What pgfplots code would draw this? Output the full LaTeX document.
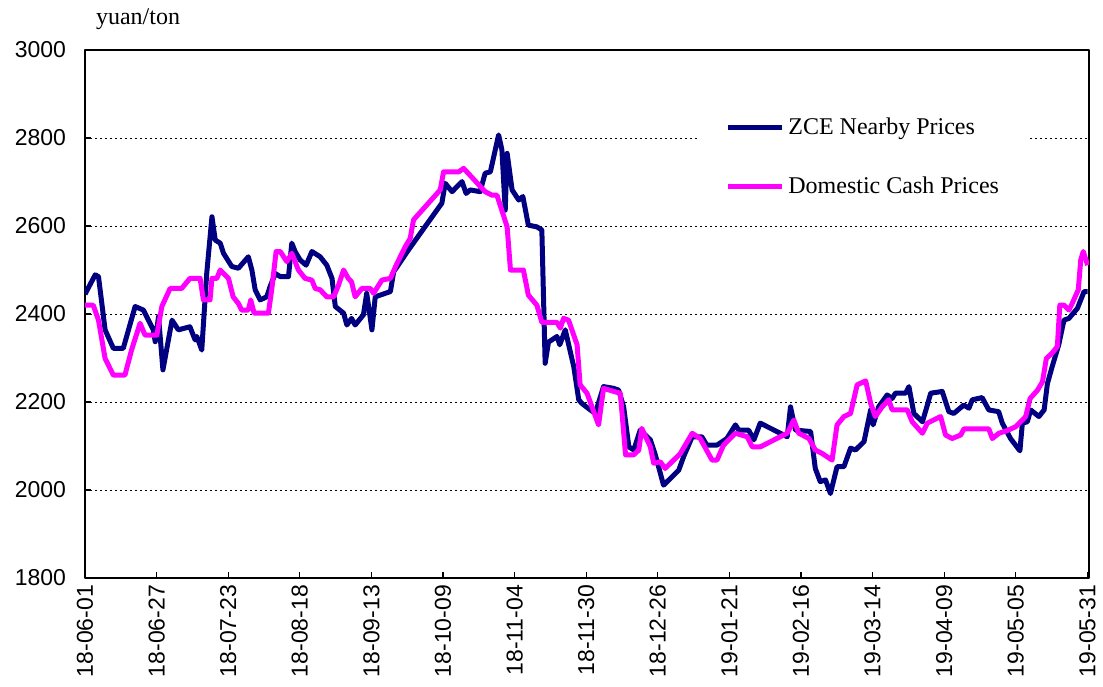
\documentclass[border=0pt]{standalone}
\usepackage{pgfplots}
\pgfplotsset{compat=1.18}
\usepackage{fontspec}
\setmainfont{Liberation Serif}
\newfontfamily\arial{Liberation Sans}
\definecolor{zce}{RGB}{0,0,128}
\definecolor{cash}{RGB}{255,0,255}

\begin{document}
\begin{tikzpicture}
\begin{axis}[
  name=ax,
  scale only axis, width=502pt, height=264pt,
  xmin=0, xmax=364.6, ymin=1800, ymax=3000,
  xtick={0,26,...,364},
  xticklabels={18-06-01,18-06-27,18-07-23,18-08-18,18-09-13,18-10-09,18-11-04,18-11-30,18-12-26,19-01-21,19-02-16,19-03-14,19-04-09,19-05-05,19-05-31},
  ytick={1800,2000,...,3000},
  xtick pos=left, ytick pos=left,
  tick align=inside,
  major tick length=3pt,
  tick style={black, line width=0.6pt},
  axis line style={line width=1pt},
  ymajorgrids,
  grid style={black, line width=0.5pt, dash pattern=on 1.2pt off 1.3pt},
  /pgf/number format/assume math mode=true,
  /pgf/number format/1000 sep={},
  ticklabel style={font=\arial\fontsize{11.5}{13}\selectfont},
  xticklabel style={rotate=90, anchor=east},
  yticklabel style={xshift=-6pt},
  legend style={at={(rel axis cs:0.6125,0.911)}, anchor=north west,
    draw=none, fill=white, inner xsep=12.5pt, inner ysep=8pt,
    row sep=16pt, font=\fontsize{12}{14}\selectfont},
  legend cell align=left,
  legend image code/.code={\draw[#1] (0pt,0pt) -- (27pt,0pt);},
  line join=round,
]
\addplot[zce, line width=2.5pt] coordinates {
(0,2445) (3.7,2489) (4.9,2485) (7.3,2364) (10.3,2322) (13.9,2322) (18.2,2417)
(21.2,2409) (24.8,2364) (25.5,2337) (26.7,2394) (28.3,2273) (31.6,2386)
(33.9,2364) (38.1,2371) (40.0,2341) (40.6,2349) (42.4,2318) (44.2,2492)
(46.1,2621) (47.3,2568) (49.1,2561) (50.3,2538) (53.3,2508) (55.7,2504)
(59.3,2530) (60.6,2500) (61.8,2455) (63.6,2432) (66.0,2439) (67.2,2462)
(69.1,2492) (70.9,2485) (73.9,2485) (75.1,2561) (76.3,2542) (78.1,2523)
(80.3,2511) (82.4,2542) (85.4,2530) (87.8,2511) (89.7,2481) (90.9,2417)
(93.9,2402) (95.1,2375) (96.8,2390) (98.1,2375) (101.1,2398) (102.3,2447)
(104.2,2364) (105.4,2439) (110.9,2451) (112.1,2496) (117.4,2545) (129.6,2652)
(130.8,2697) (133.3,2678) (136.9,2701) (138.4,2674) (139.9,2682) (143.5,2678)
(145.3,2720) (147.2,2723) (150.2,2807) (151.4,2773) (152.6,2636) (153.3,2765)
(155.1,2682) (157.5,2659) (159.0,2667) (161.0,2602) (164.1,2598) (165.9,2591)
(167.1,2288) (168.3,2336) (171.4,2349) (172.4,2330) (174.4,2364) (177.5,2280)
(179.3,2205) (180.4,2197) (183.5,2182) (185.3,2174) (188.3,2235) (192.0,2231)
(193.8,2227) (195.6,2189) (197.5,2098) (199.3,2091) (201.6,2136) (205.3,2114)
(207.1,2080) (210.1,2011) (215.6,2045) (217.4,2076) (220.5,2121) (224.0,2121)
(225.8,2102) (229.5,2102) (233.1,2117) (236.2,2148) (237.4,2136) (241.0,2136)
(242.9,2114) (245.2,2152) (255.0,2121) (256.2,2189) (258.0,2136) (263.5,2133)
(265.2,2049) (267.0,2019) (268.9,2023) (270.7,1992) (273.1,2053) (275.6,2053)
(278.0,2095) (279.8,2091) (282.9,2110) (285.3,2182) (286.2,2148) (288.2,2189)
(291.3,2216) (293.1,2208) (294.3,2220) (298.0,2220) (299.2,2235) (301.0,2174)
(304.1,2155) (305.9,2193) (307.1,2220) (311.3,2224) (313.7,2178) (315.5,2174)
(319.1,2193) (321.0,2186) (322.2,2205) (325.8,2210) (328.2,2182) (331.8,2178)
(333.1,2152) (336.1,2117) (339.5,2089) (340.4,2152) (342.2,2155) (343.4,2182)
(346.4,2167) (348.3,2182) (349.5,2242) (351.2,2280) (353.6,2330) (355.5,2386)
(357.3,2390) (360.4,2413) (362.8,2451) (364.1,2451)
};
\addlegendentry{ZCE Nearby Prices}
\addplot[cash, line width=2.5pt] coordinates {
(0,2420) (3.0,2420) (4.9,2386) (7.3,2299) (10.3,2261) (14.5,2261) (16.9,2318)
(20.0,2379) (21.8,2352) (26.1,2352) (27.9,2417) (30.9,2458) (35.1,2458)
(38.1,2481) (41.8,2481) (43.0,2432) (45.4,2432) (46.1,2481) (47.9,2481)
(49.1,2500) (52.1,2481) (53.8,2439) (55.7,2424) (56.9,2409) (59.3,2409)
(60.2,2432) (61.4,2402) (66.6,2402) (67.8,2455) (69.4,2542) (70.9,2542)
(73.3,2519) (75.1,2538) (77.5,2500) (79.9,2481) (82.4,2477) (83.6,2458)
(85.4,2455) (87.8,2439) (90.3,2439) (92.1,2466) (93.9,2500) (95.6,2481)
(96.8,2473) (98.1,2439) (100.5,2458) (103.6,2458) (104.8,2447) (107.8,2477)
(110.9,2481) (113.3,2515) (116.3,2553) (118.1,2572) (119.3,2614) (129.0,2682)
(130.2,2723) (135.7,2723) (137.5,2731) (145.3,2678) (147.8,2670) (149.6,2670)
(153.3,2598) (154.5,2500) (159.2,2500) (161.0,2443) (164.1,2420) (165.9,2381)
(167.1,2381) (171.4,2381) (172.6,2368) (173.8,2390) (175.6,2386) (178.7,2330)
(179.8,2239) (182.3,2220) (184.1,2189) (186.5,2148) (188.3,2231) (192.6,2223)
(194.4,2220) (196.3,2080) (199.3,2080) (201.1,2091) (202.2,2140) (205.3,2098)
(206.5,2061) (208.9,2064) (210.7,2049) (216.2,2083) (220.5,2129) (223.4,2117)
(227.7,2068) (229.5,2068) (231.9,2102) (236.2,2129) (240.5,2121) (242.3,2098)
(245.2,2098) (255.0,2129) (257.4,2159) (259.2,2129) (262.9,2117) (265.2,2091)
(267.7,2083) (271.3,2068) (273.1,2148) (275.6,2167) (278.0,2174) (280.4,2239)
(283.5,2248) (285.3,2197) (287.0,2167) (289.5,2189) (291.9,2205) (293.1,2182)
(298.6,2182) (300.4,2155) (304.1,2129) (305.9,2152) (310.7,2167) (312.5,2125)
(314.9,2117) (318.0,2125) (319.2,2139) (328.2,2139) (329.5,2117) (331.9,2129)
(334.9,2135) (338.0,2144) (340.4,2159) (341.6,2167) (343.2,2208) (345.9,2227)
(347.7,2246) (349.1,2299) (351.2,2311) (353.1,2326) (354.0,2420) (355.5,2420)
(357.3,2409) (358.5,2424) (360.7,2455) (361.6,2523) (362.5,2542) (364.1,2511)
};
\addlegendentry{Domestic Cash Prices}
\end{axis}
\node[anchor=base west, font=\fontsize{12}{14}\selectfont] at ([xshift=2pt,yshift=12.5pt]ax.north west) {yuan/ton};
\pgfresetboundingbox
\path[use as bounding box] ([xshift=-42.5pt,yshift=-54pt]ax.south west) rectangle ([xshift=7pt,yshift=25pt]ax.north east);
\end{tikzpicture}
\end{document}
